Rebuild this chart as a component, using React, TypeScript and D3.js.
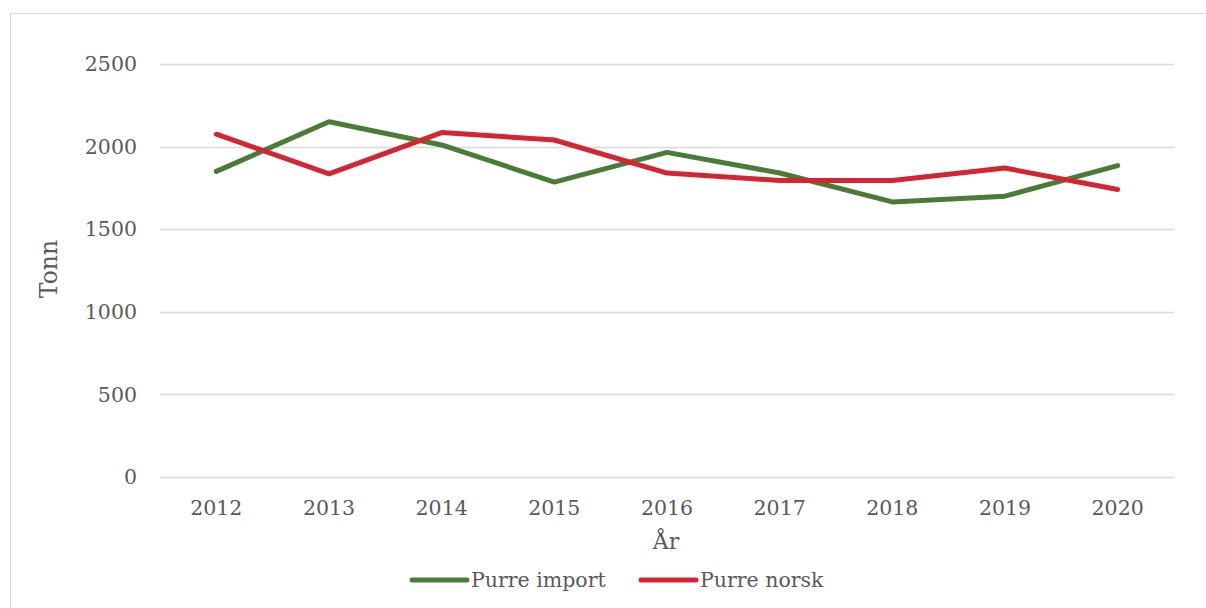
import React, { useEffect, useRef } from "react";
import * as d3 from "d3";

const years = ["2012", "2013", "2014", "2015", "2016", "2017", "2018", "2019", "2020"];
const purreImport = [1850, 2150, 2010, 1785, 1965, 1840, 1665, 1700, 1885];
const purreNorsk = [2075, 1835, 2085, 2040, 1840, 1795, 1795, 1870, 1740];
const yTicks = [0, 500, 1000, 1500, 2000, 2500];
const seriesNames = ["Purre import", "Purre norsk"];
const seriesColors = ["#4a7b37", "#d42532"];

const W = 1206;
const H = 608;
const FONT = "'DejaVu Serif', Georgia, serif";
const TEXT = "#595959";

export default function App() {
  const ref = useRef<SVGSVGElement>(null);

  useEffect(() => {
    const svg = d3.select(ref.current);
    svg.selectAll("*").remove();

    const left = 160, right = 1174, top = 64, bottom = 477;
    const x = d3.scaleBand<string>().domain(years).range([left, right]);
    const y = d3.scaleLinear().domain([0, 2500]).range([bottom, top]);

    // chart frame
    svg.append("rect")
      .attr("x", 10.5).attr("y", 13.5)
      .attr("width", W).attr("height", H)
      .attr("fill", "#fff").attr("stroke", "#d9d9d9").attr("stroke-width", 1);

    // grid
    svg.append("g").selectAll("line").data(yTicks).join("line")
      .attr("x1", left).attr("x2", right)
      .attr("y1", d => Math.round(y(d)) + 0.5).attr("y2", d => Math.round(y(d)) + 0.5)
      .attr("stroke", "#d9d9d9").attr("stroke-width", 1.5);

    // y tick labels
    svg.append("g").selectAll("text").data(yTicks).join("text")
      .attr("x", 137).attr("y", d => y(d))
      .attr("dy", "0.35em")
      .attr("text-anchor", "end")
      .attr("font-family", FONT).attr("font-size", 20.5).attr("fill", TEXT)
      .text(d => String(d));

    // x tick labels
    svg.append("g").selectAll("text").data(years).join("text")
      .attr("x", d => (x(d) as number) + x.bandwidth() / 2).attr("y", 515)
      .attr("text-anchor", "middle")
      .attr("font-family", FONT).attr("font-size", 20.5).attr("fill", TEXT)
      .text(d => d);

    // axis titles
    svg.append("text")
      .attr("x", 666).attr("y", 549)
      .attr("text-anchor", "middle")
      .attr("font-family", FONT).attr("font-size", 22).attr("fill", TEXT)
      .text("År");
    svg.append("text")
      .attr("transform", `translate(57, 269) rotate(-90)`)
      .attr("text-anchor", "middle")
      .attr("font-family", FONT).attr("font-size", 23.5).attr("fill", TEXT)
      .text("Tonn");

    // lines
    const all = [purreImport, purreNorsk];
    const line = d3.line<number>()
      .x((_, i) => (x(years[i]) as number) + x.bandwidth() / 2)
      .y(d => y(d));
    all.forEach((vals, i) => {
      svg.append("path")
        .attr("d", line(vals) as string)
        .attr("fill", "none")
        .attr("stroke", seriesColors[i])
        .attr("stroke-width", 5)
        .attr("stroke-linejoin", "round")
        .attr("stroke-linecap", "round");
    });

    // legend
    const legendX = [412, 641];
    seriesNames.forEach((name, i) => {
      const g = svg.append("g");
      g.append("line")
        .attr("x1", legendX[i]).attr("x2", legendX[i] + 55)
        .attr("y1", 580).attr("y2", 580)
        .attr("stroke", seriesColors[i]).attr("stroke-width", 5)
        .attr("stroke-linecap", "round");
      g.append("text")
        .attr("x", legendX[i] + 59).attr("y", 580)
        .attr("dy", "0.35em")
        .attr("font-family", FONT).attr("font-size", 20.5).attr("fill", TEXT)
        .text(name);
    });
  }, []);

  return (
    <svg
      ref={ref}
      width={W}
      height={H}
      style={{ position: "absolute", left: 0, top: 0, background: "#fff" }}
    />
  );
}
